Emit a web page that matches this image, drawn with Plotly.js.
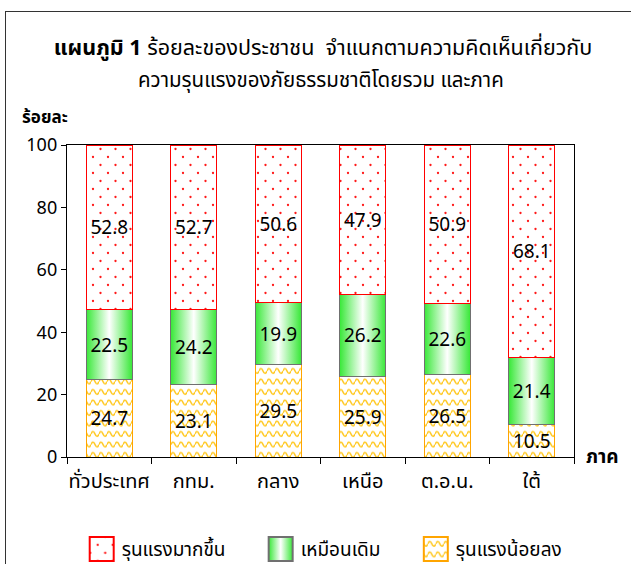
<!DOCTYPE html>
<html><head><meta charset="utf-8">
<script src="https://cdn.plot.ly/plotly-3.0.1.min.js"></script>
<style>
html,body{margin:0;padding:0;background:#fff;}
#wrap{position:relative;width:631px;height:564px;overflow:hidden;}
#frame{position:absolute;left:5px;top:11px;width:700px;height:700px;border:1.5px solid #333;box-sizing:border-box;pointer-events:none;}
#chart{position:absolute;left:0;top:0;width:631px;height:564px;}
</style></head>
<body><div id="wrap"><div id="chart"></div><div id="frame"></div></div>
<script>
const categories = ['ทั่วประเทศ','กทม.','กลาง','เหนือ','ต.อ.น.','ใต้'];
const seriesNames = ['รุนแรงน้อยลง','เหมือนเดิม','รุนแรงมากขึ้น'];
const lessSevere = [24.7, 23.1, 29.5, 25.9, 26.5, 10.5];
const same = [22.5, 24.2, 19.9, 26.2, 22.6, 21.4];
const moreSevere = [52.8, 52.7, 50.6, 47.9, 50.9, 68.1];
const yTicks = [0, 20, 40, 60, 80, 100];
const titleLine1 = '<b>แผนภูมิ 1</b> ร้อยละของประชาชน\u00a0 จำแนกตามความคิดเห็นเกี่ยวกับ';
const titleLine2 = 'ความรุนแรงของภัยธรรมชาติโดยรวม และภาค';
const yTitle = 'ร้อยละ';
const xTitle = 'ภาค';

const numFont = '"Noto Sans", "DejaVu Sans", sans-serif';
const thaiFont = '"Noto Sans Thai", "Noto Sans", "DejaVu Sans", sans-serif';

function fmt(a){return a.map(v=>v.toFixed(1));}

const common = {type:'bar', x:categories, textposition:'inside', insidetextanchor:'middle',
  textfont:{family:numFont,size:19,color:'#000'}, hoverinfo:'none', constraintext:'none'};

const traces = [
  Object.assign({}, common, {name:seriesNames[0], y:lessSevere, text:fmt(lessSevere), legend:'legend3',
    marker:{color:'#fff3d0', line:{color:'#ffa500',width:1}}}),
  Object.assign({}, common, {name:seriesNames[1], y:same, text:fmt(same), legend:'legend2',
    marker:{color:'#9ef09e', line:{color:'#707070',width:1}}}),
  Object.assign({}, common, {name:seriesNames[2], y:moreSevere, text:fmt(moreSevere), legend:'legend',
    marker:{color:'#ffffff', line:{color:'#ff0000',width:1.2}}})
];

const legFont = {family:thaiFont,size:19,color:'#000'};
const legY = -0.295;
function leg(x){return {orientation:'h', x:x, xanchor:'left', y:legY, yanchor:'middle', font:legFont, itemwidth:30, bgcolor:'rgba(0,0,0,0)'};}

const layout = {
  width:631, height:564,
  margin:{l:67, r:57, t:145, b:107, autoexpand:false},
  barmode:'stack', bargap:0.455,
  showlegend:true,
  legend:leg(0.029), legend2:leg(0.382), legend3:leg(0.688),
  title:{text:titleLine1, font:{family:thaiFont,size:21.5,color:'#000'}, x:0.505, xanchor:'center', xref:'paper',
    y:1-47/564, yanchor:'middle', automargin:false},
  xaxis:{type:'category', tickson:'boundaries', ticks:'outside', ticklen:6, tickcolor:'#000', tickangle:0, automargin:false,
    showline:true, linecolor:'#000', linewidth:1.2, mirror:true, showgrid:false, ticklabelstandoff:6,
    tickfont:{family:thaiFont,size:20,color:'#000'}, fixedrange:true},
  yaxis:{range:[0,100], tickvals:yTicks, ticks:'outside', ticklen:5, tickcolor:'#000', automargin:false,
    showline:true, linecolor:'#000', linewidth:1.2, mirror:true, showgrid:false, zeroline:false,
    tickfont:{family:numFont,size:18,color:'#000'}, fixedrange:true},
  annotations:[
    {text:titleLine2, xref:'paper', yref:'paper', x:0.5, y:(457-80)/312, xanchor:'center', yanchor:'middle', showarrow:false,
      font:{family:thaiFont,size:20.5,color:'#000'}},
    {text:'<b>'+yTitle+'</b>', xref:'paper', yref:'paper', x:-0.092, y:(457-118)/312, xanchor:'left', yanchor:'middle', showarrow:false,
      font:{family:thaiFont,size:17,color:'#000'}},
    {text:'<b>'+xTitle+'</b>', xref:'paper', yref:'paper', x:1.02, y:0, xanchor:'left', yanchor:'middle', showarrow:false,
      font:{family:thaiFont,size:19,color:'#000'}}
  ],
  paper_bgcolor:'#fff', plot_bgcolor:'#fff'
};

Plotly.newPlot('chart', traces, layout, {displayModeBar:false, staticPlot:true}).then(function(gd){
  const svg = gd.querySelector('svg.main-svg');
  const ns = 'http://www.w3.org/2000/svg';
  const defs = svg.querySelector('defs');
  function el(tag, attrs, parent){const e=document.createElementNS(ns,tag); for(const k in attrs) e.setAttribute(k,attrs[k]); if(parent) parent.appendChild(e); return e;}
  const grad = el('linearGradient',{id:'greenGrad',x1:'0',x2:'1',y1:'0',y2:'0'},defs);
  [['0','#38e838'],['0.5','#ffffff'],['1','#38e838']].forEach(s=>el('stop',{offset:s[0],'stop-color':s[1]},grad));
  const dots = el('pattern',{id:'redDots',patternUnits:'userSpaceOnUse',width:'15',height:'16'},defs);
  el('rect',{x:0,y:0,width:15,height:16,fill:'#ffffff'},dots);
  el('circle',{cx:3.5,cy:4,r:1.15,fill:'#ff1a1a'},dots);
  el('circle',{cx:11,cy:12,r:1.15,fill:'#ff1a1a'},dots);
  const wave = el('pattern',{id:'orangeWave',patternUnits:'userSpaceOnUse',width:'8',height:'10.5'},defs);
  el('rect',{x:0,y:0,width:8,height:10.5,fill:'#ffffff'},wave);
  ['5.5','-5','16'].forEach(function(b){
    const y=parseFloat(b);
    el('path',{d:'M0,'+y+' C1.3,'+(y-3.2)+' 2.7,'+(y-3.2)+' 4,'+y+' C5.3,'+(y+3.2)+' 6.7,'+(y+3.2)+' 8,'+y,
      fill:'none',stroke:'#ffc81e','stroke-width':'1.6'},wave);
  });
  const fills = {};
  fills[seriesNames[0]] = 'url(#orangeWave)';
  fills[seriesNames[1]] = 'url(#greenGrad)';
  fills[seriesNames[2]] = 'url(#redDots)';
  const traceGroups = gd.querySelectorAll('.barlayer .trace');
  traceGroups.forEach(function(g, i){
    const f = fills[seriesNames[i]];
    g.querySelectorAll('.point path').forEach(p=>{p.style.fill=f;});
  });
  gd.querySelectorAll('g.traces').forEach(function(it){
    const txt = it.textContent.trim();
    seriesNames.forEach(function(n){
      if (txt===n){
        it.querySelectorAll('.legendpoints path').forEach(p=>{
          p.style.fill=fills[n];
          p.setAttribute('d','M12,12H-12V-12H12Z');
          p.style.strokeWidth = '2px';
        });
      }
    });
  });
});
</script></body></html>
